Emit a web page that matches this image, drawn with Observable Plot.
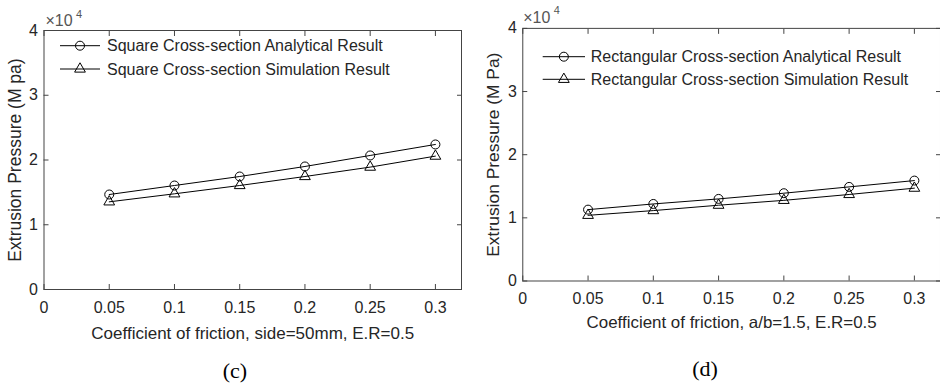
<!DOCTYPE html>
<html>
<head>
<meta charset="utf-8">
<script src="https://cdn.jsdelivr.net/npm/d3@7"></script>
<script src="https://cdn.jsdelivr.net/npm/@observablehq/plot@0.6"></script>
<style>
  html, body { margin: 0; padding: 0; background: #fff; }
  #wrap { position: relative; width: 940px; height: 385px; overflow: hidden; }
  .fig { position: absolute; top: 0; width: 470px; height: 385px; overflow: hidden; }
  .fig svg.plot { position: absolute; left: 0; top: 0; }
  .legend { position: absolute; left: 0; top: 0; pointer-events: none; }
  .caption { position: absolute; left: 0; width: 470px; text-align: center;
             font-family: "Liberation Serif", "Times New Roman", serif; font-size: 22px; line-height: 24px; color: #000; }
</style>
</head>
<body>
<div id="wrap">
  <div class="fig" id="figC" style="left:0px"></div>
  <div class="fig" id="figD" style="left:470px"></div>
</div>
<script>
// ---- data ----
const friction = [0.05, 0.1, 0.15, 0.2, 0.25, 0.3];
const squareAnalytical = [14670, 16060, 17450, 19000, 20700, 22400];
const squareSimulation = [13540, 14780, 16060, 17450, 18900, 20600];
const rectAnalytical   = [11300, 12200, 13000, 13900, 14900, 15900];
const rectSimulation   = [10400, 11150, 12000, 12770, 13700, 14700];
const xTicks = [0, 0.05, 0.1, 0.15, 0.2, 0.25, 0.3];
const yTicks = [0, 10000, 20000, 30000, 40000];
const xDomain = [0, 0.32];
const yDomain = [0, 40000];

const SANS = "'Liberation Sans', Arial, Helvetica, sans-serif";

function chart(o) {
  const rows = friction.map((f, i) => ({f, a: o.analytical[i], s: o.simulation[i]}));
  return Plot.plot({
    width: o.width, height: o.height,
    marginLeft: o.mL, marginRight: o.mR, marginTop: o.mT, marginBottom: o.mB,
    x: {domain: xDomain}, y: {domain: yDomain},
    style: {fontFamily: SANS, fontSize: "16px", color: "#262626", background: "white"},
    marks: [
      Plot.frame({stroke: "#444", strokeWidth: 1}),
      Plot.axisX(xTicks, {anchor: "bottom", tickSize: -5, tickPadding: 17, tickFormat: d => String(d), label: null, stroke: "#444", fill: "#262626"}),
      Plot.axisX(xTicks, {anchor: "top", tickSize: -5, tickFormat: () => "", label: null, stroke: "#444"}),
      Plot.axisY(yTicks, {anchor: "left", tickSize: -5, tickPadding: 11, tickFormat: d => String(d / 10000), label: null, stroke: "#444", fill: "#262626"}),
      Plot.axisY(yTicks, {anchor: "right", tickSize: -5, tickFormat: () => "", label: null, stroke: "#444"}),
      Plot.lineY(rows, {x: "f", y: "a", stroke: "black", strokeWidth: 1}),
      Plot.lineY(rows, {x: "f", y: "s", stroke: "black", strokeWidth: 1}),
      Plot.dot(rows, {x: "f", y: "a", r: 4.5, stroke: "black", fill: "none", strokeWidth: 1}),
      Plot.dot(rows, {x: "f", y: "s", r: 4, symbol: "triangle", stroke: "black", fill: "none", strokeWidth: 1}),
      Plot.text([o.xLabel], {text: d => d, frameAnchor: "bottom", dy: o.xLabelDy, textAnchor: "middle", lineAnchor: "middle", fontSize: 17, fill: "#262626"}),
      Plot.text([o.yLabel], {text: d => d, frameAnchor: "left", dx: o.yLabelDx, rotate: -90, textAnchor: "middle", lineAnchor: "middle", fontSize: 17.5, fill: "#262626"}),
      Plot.text(["×10"], {text: d => d, frameAnchor: "top-left", dx: o.expDx, dy: o.expDy, textAnchor: "start", lineAnchor: "middle", fontSize: 16, fill: "#555"}),
      Plot.text(["4"], {text: d => d, frameAnchor: "top-left", dx: o.expDx + 30.5, dy: o.expDy - 6.5, textAnchor: "start", lineAnchor: "middle", fontSize: 11, fill: "#555"})
    ]
  });
}

function legend(container, labels, p) {
  const ns = "http://www.w3.org/2000/svg";
  const svg = document.createElementNS(ns, "svg");
  svg.setAttribute("class", "legend");
  svg.setAttribute("width", 470); svg.setAttribute("height", 385);
  labels.forEach((lab, i) => {
    const y = p.y0 + i * p.dy;
    const line = document.createElementNS(ns, "line");
    line.setAttribute("x1", p.x1); line.setAttribute("x2", p.x2);
    line.setAttribute("y1", y); line.setAttribute("y2", y);
    line.setAttribute("stroke", "black"); line.setAttribute("stroke-width", 1);
    svg.appendChild(line);
    const m = (p.x1 + p.x2) / 2;
    let mk;
    if (i === 0) {
      mk = document.createElementNS(ns, "circle");
      mk.setAttribute("cx", m); mk.setAttribute("cy", y); mk.setAttribute("r", 4.5);
    } else {
      mk = document.createElementNS(ns, "path");
      const sym = d3.symbol(d3.symbolTriangle, Math.PI * 16)();
      mk.setAttribute("d", sym);
      mk.setAttribute("transform", `translate(${m},${y})`);
    }
    mk.setAttribute("fill", "none"); mk.setAttribute("stroke", "black");
    svg.appendChild(mk);
    const t = document.createElementNS(ns, "text");
    t.setAttribute("x", p.tx); t.setAttribute("y", y); t.setAttribute("dy", "0.35em");
    t.setAttribute("font-family", SANS); t.setAttribute("font-size", 16); t.setAttribute("fill", "#262626");
    t.textContent = lab;
    svg.appendChild(t);
  });
  container.appendChild(svg);
}

function caption(container, txt, top) {
  const d = document.createElement("div");
  d.className = "caption"; d.style.top = top + "px"; d.textContent = txt;
  container.appendChild(d);
}

const figC = document.getElementById("figC");
figC.appendChild(chart({
  width: 470, height: 385, mL: 43.5, mR: 9, mT: 30, mB: 96,
  analytical: squareAnalytical, simulation: squareSimulation,
  xLabel: "Coefficient of friction, side=50mm, E.R=0.5",
  yLabel: "Extrusion Pressure (M pa)",
  xLabelDy: 44, yLabelDx: -28.5, expDx: 1.5, expDy: -9.5
}));
legend(figC, ["Square Cross-section Analytical Result", "Square Cross-section Simulation Result"],
  {x1: 60, x2: 100, y0: 45.7, dy: 23.3, tx: 107});
caption(figC, "(c)", 359);

const figD = document.getElementById("figD");
figD.appendChild(chart({
  width: 472, height: 385, mL: 52.5, mR: 0, mT: 28, mB: 103.3,
  analytical: rectAnalytical, simulation: rectSimulation,
  xLabel: "Coefficient of friction, a/b=1.5, E.R=0.5",
  yLabel: "Extrusion Pressure (M Pa)",
  xLabelDy: 41.3, yLabelDx: -29.8, expDx: 0.5, expDy: -11
}));
legend(figD, ["Rectangular Cross-section Analytical Result", "Rectangular Cross-section Simulation Result"],
  {x1: 72.7, x2: 115, y0: 56.7, dy: 22.6, tx: 120.7});
caption(figD, "(d)", 357);
</script>
</body>
</html>
